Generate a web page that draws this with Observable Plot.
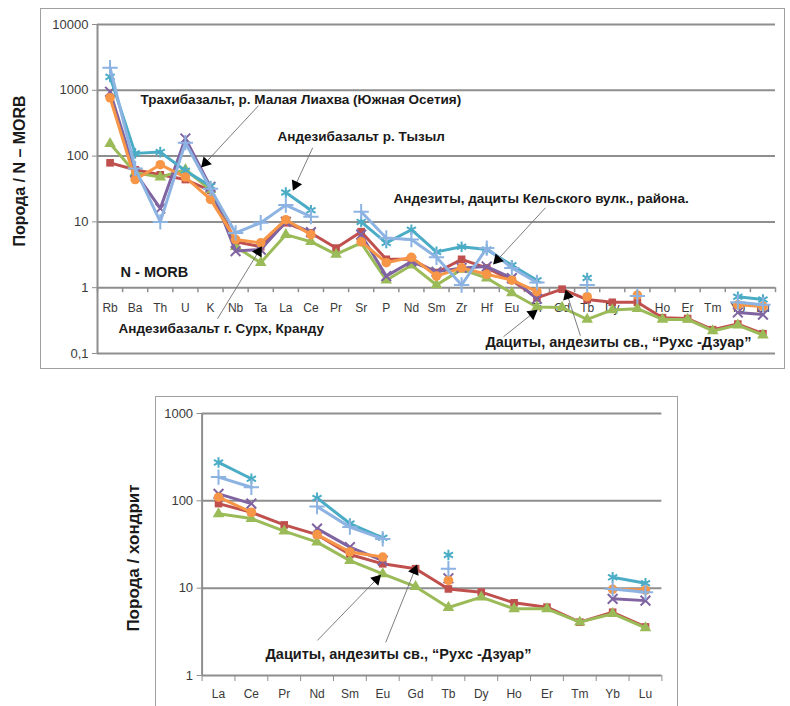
<!DOCTYPE html>
<html>
<head>
<meta charset="utf-8">
<script src="https://cdn.jsdelivr.net/npm/d3@7"></script>
<script src="https://cdn.jsdelivr.net/npm/@observablehq/plot@0.6"></script>
<style>
  body { margin: 0; background: #fff; }
  #wrap { position: relative; width: 790px; height: 706px; overflow: hidden; background: #fff; font-family: "Liberation Sans", Arial, sans-serif; }
  .frame { position: absolute; border: 1px solid #a0a0a0; box-sizing: border-box; }
  .ytitle { position: absolute; white-space: nowrap; font-weight: bold; color: #1a1a1a; transform: translate(-50%, -50%) rotate(-90deg); }
  .chart { position: absolute; left: 0; }
</style>
</head>
<body>
<div id="wrap">
  <div class="frame" style="left:40px;top:8px;width:745px;height:361px"></div>
  <div class="frame" style="left:155px;top:396px;width:523px;height:330px"></div>
  <div id="top" class="chart" style="top:0px"></div>
  <div id="bot" class="chart" style="top:380px"></div>
  <div class="ytitle" style="left:20px;top:171px;font-size:16px">Порода / N – MORB</div>
  <div class="ytitle" style="left:134px;top:558px;font-size:17px">Порода / хондрит</div>
</div>
<script>
// ---------- Top chart (N-MORB normalized spidergram) ----------
const catsTop = ["Rb","Ba","Th","U","K","Nb","Ta","La","Ce","Pr","Sr","P","Nd","Sm","Zr","Hf","Eu","Ti","Gd","Tb","Dy","Y","Ho","Er","Tm","Yb","Lu"];
const yTicksTop = [0.1, 1, 10, 100, 1000, 10000];
const yTickLabelsTop = ["0,1", "1", "10", "100", "1000", "10000"];

const topRed       = [79, 62, 52, 44, 30, 5.0, 4.2, 9.7, 6.8, 4.0, 7.1, 2.7, 2.7, 1.7, 2.7, 2.0, 1.3, 0.7, 0.95, 0.66, 0.6, 0.6, 0.35, 0.34, 0.23, 0.28, 0.2];
const topGreen     = [155, 56, 48, 62, 31, 4.2, 2.4, 6.4, 5.0, 3.2, 4.8, 1.3, 2.2, 1.1, 1.9, 1.4, 0.83, 0.51, 0.5, 0.33, 0.46, 0.48, 0.33, 0.33, 0.22, 0.27, 0.19];
const topPurple    = [950, 56, 16, 185, 34, 3.6, 3.8, 10, 7.0, null, 6.4, 1.5, 2.5, 1.75, 2.0, 2.1, 1.4, 0.68, null, null, null, null, null, null, null, 0.42, 0.39];
const topTeal      = [1600, 110, 115, 60, 35, null, null, 28, 15, null, 10, 4.8, 7.6, 3.5, 4.2, 3.8, 2.2, 1.3, null, 1.4, null, null, null, null, null, 0.73, 0.66];
const topOrange    = [770, 44, 74, 48, 22, 5.4, 4.8, 10.8, 6.4, null, 5.0, 2.4, 2.9, 1.5, 2.0, 1.6, 1.3, 0.87, null, 0.73, null, 0.77, null, null, null, 0.55, 0.52];
const topLightBlue = [2200, 65, 10, 160, 32, 6.8, 9.7, 18, 12, null, 14.3, 5.7, 5.4, 2.9, 1.1, 4.0, 2.0, 1.2, null, 1.1, null, 0.75, null, null, null, 0.6, 0.55];

// ---------- Bottom chart (chondrite normalized REE) ----------
const catsBot = ["La","Ce","Pr","Nd","Sm","Eu","Gd","Tb","Dy","Ho","Er","Tm","Yb","Lu"];
const yTicksBot = [1, 10, 100, 1000];
const yTickLabelsBot = ["1", "10", "100", "1000"];

const botRed       = [93, 74, 53, 41, 24.3, 19, 16.7, 9.8, 9.0, 6.8, 6.06, 4.08, 5.3, 3.6];
const botGreen     = [71, 62.7, 45, 33.7, 20.7, 14.6, 10.4, 6.0, 7.9, 5.8, 5.8, 4.08, 5.1, 3.5];
const botPurple    = [120, 93, null, 48, 29.5, 20.7, null, 13, null, null, null, null, 7.55, 7.2];
const botTeal      = [275, 179, null, 108, 55, 37.7, null, 24, null, null, null, null, 13.3, 11.4];
const botOrange    = [110, 74, null, 41, 26, 22.7, null, 12.3, null, null, null, null, 9.7, 9.5];
const botLightBlue = [187, 143, null, 86, 50, 36.6, null, 16.7, null, null, null, null, 9.8, 9.0];

// ---------- Annotations (index along category axis, value on log axis) ----------
const annotTextTop = [
  {text: "Трахибазальт, р. Малая Лиахва (Южная Осетия)", x: 1.21, y: 719, size: 13.5},
  {text: "Андезибазальт р. Тызыл", x: 6.67, y: 197, size: 13.5},
  {text: "Андезиты, дациты Кельского вулк., района.", x: 11.29, y: 22.5, size: 13.5},
  {text: "N - MORB", x: 0.42, y: 1.69, size: 14.5},
  {text: "Андезибазальт г. Сурх, Кранду", x: 0.34, y: 0.238, size: 13.5},
  {text: "Дациты, андезиты св., “Рухс -Дзуар”", x: 14.95, y: 0.146, size: 14.5}
];
const annotArrowsTop = [
  {x1: 5.91, y1: 583, x2: 3.80, y2: 79, angle: -137},
  {x1: 8.07, y1: 134, x2: 7.39, y2: 36.7, angle: -155},
  {x1: 17.34, y1: 16.4, x2: 15.43, y2: 2.66, angle: -137},
  {x1: 4.28, y1: 0.338, x2: 5.91, y2: 3.52, angle: 31},
  {x1: 15.67, y1: 0.18, x2: 16.82, y2: 0.403, angle: 52},
  {x1: 18.73, y1: 0.186, x2: 18.22, y2: 0.756, angle: -18}
];
const annotTextBot = [
  {text: "Дациты, андезиты св., “Рухс -Дзуар”", x: 1.43, y: 1.74, size: 14.5}
];
const annotArrowsBot = [
  {x1: 3.01, y1: 2.52, x2: 4.81, y2: 12.6, angle: 44},
  {x1: 5.09, y1: 2.39, x2: 5.97, y2: 15.9, angle: 22}
];

// ---------- Styles ----------
const FONT = '"Liberation Sans", Arial, sans-serif';
const GRID = "#8e8e8e";
const styles = [
  {color: "#C0504D", symbol: "square",   filled: true,  r: 4.3},
  {color: "#9BBB59", symbol: "triangle", filled: true,  r: 4.3},
  {color: "#8064A2", symbol: "times",    filled: false, r: 4.5},
  {color: "#4BACC6", symbol: "asterisk", filled: false, r: 5},
  {color: "#F79646", symbol: "circle",   filled: true,  r: 4.8},
  {color: "#8DB3E2", symbol: "plus",     filled: false, r: 5}
];

function seriesMarks(seriesList) {
  const marks = [];
  seriesList.forEach((vals, k) => {
    const st = styles[k];
    const rows = vals.map((v, i) => ({i, v}));
    marks.push(Plot.line(rows, {x: "i", y: "v", stroke: st.color, strokeWidth: 3, strokeLinejoin: "round"}));
    const pts = rows.filter(d => d.v != null);
    if (st.filled) {
      marks.push(Plot.dot(pts, {x: "i", y: "v", symbol: st.symbol, r: st.r, fill: st.color, stroke: "none"}));
    } else {
      marks.push(Plot.dot(pts, {x: "i", y: "v", symbol: st.symbol, r: st.r, fill: "none", stroke: st.color, strokeWidth: 2}));
    }
  });
  return marks;
}

function annotationMarks(texts, arrows) {
  const marks = [];
  marks.push(Plot.link(arrows, {x1: "x1", y1: "y1", x2: "x2", y2: "y2", stroke: "#6f6f6f", strokeWidth: 0.9}));
  marks.push(Plot.dot(arrows, {x: "x2", y: "y2", symbol: "triangle", r: 4.2, fill: "black", stroke: "none", rotate: "angle"}));
  texts.forEach(t => {
    marks.push(Plot.text([t], {x: "x", y: "y", text: "text", textAnchor: "start", lineAnchor: "middle",
      fontWeight: "bold", fontSize: t.size, fill: "#1a1a1a"}));
  });
  return marks;
}

// ---------- Top plot ----------
const halfTop = [-0.5, ...catsTop.map((_, i) => i + 0.5)];
const topPlot = Plot.plot({
  width: 790, height: 370,
  marginLeft: 97, marginRight: 15, marginTop: 24, marginBottom: 17,
  style: {fontFamily: FONT, background: "transparent", overflow: "visible"},
  x: {type: "linear", domain: [-0.5, catsTop.length - 0.5], axis: null},
  y: {type: "log", domain: [0.1, 10000], axis: null},
  marks: [
    Plot.ruleY(yTicksTop, {stroke: GRID, strokeWidth: 2}),
    Plot.ruleX([-0.5], {stroke: GRID, strokeWidth: 2}),
    Plot.ruleX(halfTop, {y1: 1, y2: 0.84, stroke: GRID, strokeWidth: 1.5}),
    Plot.axisY({ticks: yTicksTop, tickFormat: d => yTickLabelsTop[yTicksTop.indexOf(d)], tickSize: 5, tickPadding: 4,
      stroke: GRID, fill: "#3a3a3a", fontSize: 13, label: null}),
    Plot.text(catsTop, {x: (d, i) => i, y: 1, dy: 20, text: d => d, fontSize: 12, fill: "#3a3a3a"}),
    ...seriesMarks([topRed, topGreen, topPurple, topTeal, topOrange, topLightBlue]),
    ...annotationMarks(annotTextTop, annotArrowsTop)
  ]
});
document.getElementById("top").appendChild(topPlot);

// ---------- Bottom plot ----------
const halfBot = [-0.5, ...catsBot.map((_, i) => i + 0.5)];
const botPlot = Plot.plot({
  width: 790, height: 326,
  marginLeft: 201.6, marginRight: 128.6, marginTop: 33, marginBottom: 31,
  style: {fontFamily: FONT, background: "transparent", overflow: "visible"},
  x: {type: "linear", domain: [-0.5, catsBot.length - 0.5], axis: null},
  y: {type: "log", domain: [1, 1000], axis: null},
  marks: [
    Plot.ruleY(yTicksBot, {stroke: GRID, strokeWidth: 2}),
    Plot.ruleX([-0.5], {stroke: GRID, strokeWidth: 2}),
    Plot.axisX({ticks: halfBot, tickFormat: () => "", tickSize: 6, stroke: GRID, label: null}),
    Plot.axisY({ticks: yTicksBot, tickFormat: d => yTickLabelsBot[yTicksBot.indexOf(d)], tickSize: 5, tickPadding: 4,
      stroke: GRID, fill: "#3a3a3a", fontSize: 13, label: null}),
    Plot.text(catsBot, {x: (d, i) => i, y: 1, dy: 19, text: d => d, fontSize: 12, fill: "#3a3a3a"}),
    ...seriesMarks([botRed, botGreen, botPurple, botTeal, botOrange, botLightBlue]),
    ...annotationMarks(annotTextBot, annotArrowsBot)
  ]
});
document.getElementById("bot").appendChild(botPlot);
</script>
</body>
</html>
